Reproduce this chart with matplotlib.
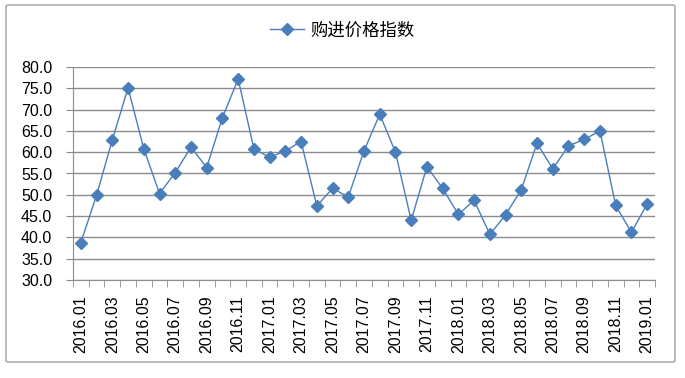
import matplotlib
matplotlib.use("Agg")
import matplotlib.pyplot as plt
from matplotlib.patches import FancyBboxPatch
import numpy as np

plt.rcParams['font.family'] = ['Liberation Sans', 'Noto Sans CJK SC', 'DejaVu Sans']

# 月份与指数
months = ["2016.%02d" % m for m in range(1, 13)] + \
         ["2017.%02d" % m for m in range(1, 13)] + \
         ["2018.%02d" % m for m in range(1, 13)] + ["2019.01"]
values = [38.8, 49.9, 62.9, 75.1, 60.8, 50.3, 55.2, 61.2, 56.4, 68.1, 77.2, 60.8,
          58.8, 60.3, 62.5, 47.4, 51.5, 49.5, 60.3, 68.9, 60.0, 44.0, 56.6, 51.5,
          45.4, 48.7, 40.7, 45.3, 51.2, 62.1, 56.1, 61.5, 63.0, 65.0, 47.5, 41.2,
          47.8]
series_name = "购进价格指数"
blue = "#4a7ebb"

fig = plt.figure(figsize=(6.85, 3.78), dpi=100)
fig.patches.append(FancyBboxPatch((6 / 685, 1 - 362 / 378), 669 / 685, 357 / 378,
                                  boxstyle="round,pad=0,rounding_size=0.004",
                                  transform=fig.transFigure, fill=False,
                                  edgecolor="#a0a0a0", linewidth=1.0))

ax = fig.add_axes([73 / 685, 1 - 280 / 378, 582 / 685, 213 / 378])
x = np.arange(len(values))
ax.plot(x, values, color=blue, linewidth=1.0, marker="D", markersize=6.3,
        markerfacecolor=blue, markeredgecolor=blue, label=series_name)

ax.set_xlim(-0.5, len(values) - 0.5)
ax.set_ylim(30, 80)
ax.set_yticks(np.arange(30, 80.1, 5))
ax.set_yticklabels(["%.1f" % v for v in np.arange(30, 80.1, 5)], fontsize=11.5)
ax.yaxis.grid(True, color="#8c8c8c", linewidth=1.0)
ax.set_axisbelow(True)

ax.set_xticks(x[::2])
ax.set_xticklabels(months[::2], rotation=90, fontsize=11.5)
ax.set_xticks(np.arange(-0.5, len(values), 1), minor=True)
ax.tick_params(axis="x", which="major", length=0, pad=11)
ax.tick_params(axis="x", which="minor", length=5, color="#8c8c8c", direction="out")
ax.tick_params(axis="y", length=5, color="#8c8c8c", pad=10)

for s in ["top", "right"]:
    ax.spines[s].set_visible(False)
for s in ["left", "bottom"]:
    ax.spines[s].set_color("#8c8c8c")

fig.legend(loc="upper center", bbox_to_anchor=(0.5, 0.985), frameon=False,
           handlelength=1.95, handletextpad=0.4,
           prop={'family': ['Noto Sans CJK SC'], 'size': 12.5})

fig.savefig("out.png", dpi=100)
